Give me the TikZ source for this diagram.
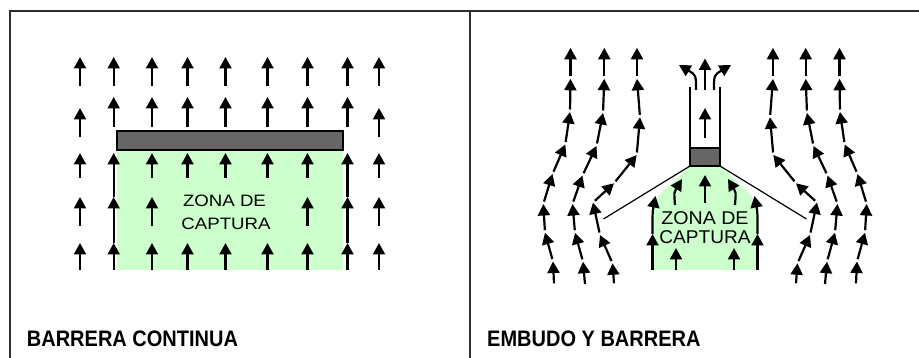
\documentclass[tikz,border=0pt]{standalone}
\usepackage{fontspec}
\setmainfont{Liberation Sans}
\usetikzlibrary{arrows.meta}

\definecolor{zone}{RGB}{204,255,204}
\definecolor{barfill}{RGB}{102,102,102}
\definecolor{framegray}{RGB}{45,45,45}

\tikzset{
  flow/.style={line width=2.2pt, -{Triangle[width=12pt,length=11.5pt]}},
  frameline/.style={draw=framegray, line width=2.6pt},
  wall/.style={draw=black, line width=1.4pt},
  blockbox/.style={draw=black, fill=barfill, line width=1.3pt},
  zonetext/.style={inner sep=0pt, anchor=base},
  paneltitle/.style={inner sep=0pt, anchor=base west,
    font=\bfseries\fontsize{20}{24}\selectfont, yscale=1.12}
}

% a chain of arrows along one streamline, points listed from tail upwards
\newcommand\flowline[1]{%
  \foreach \x/\y [count=\i, remember=\x as \px (initially 0),
                  remember=\y as \py (initially 0)] in {#1}{%
    \ifnum\i=2 \draw[flow] (\px,\py) -- (\x,\y);\fi
    \ifnum\i>2 \draw[flow, shorten <=2.5pt] (\px,\py) -- (\x,\y);\fi}}

\begin{document}
\begin{tikzpicture}[x=1pt,y=-1pt]
\useasboundingbox (0,0) rectangle (919,358);
\fill[white] (0,0) rectangle (919,358);

% outer frame and divider
\draw[frameline] (10,358) |- (919,11);
\draw[frameline] (470,11) -- (470,358);

% ---------- continuous barrier ----------
\fill[zone] (117,150) rectangle (343,270);
\draw[blockbox] (117,131) rectangle (343,150);

% first row
\foreach \x in {80,113.7,152,187.5,225.5,267.5,307.5,347.5,379}
  \draw[flow] (\x,86) -- (\x,57);
% second row
\foreach \x in {113.7,152,187.5,225.5,267.5,307.5,347.5}
  \draw[flow] (\x,127) -- (\x,97);
\foreach \x in {80,379}
  \draw[flow] (\x,137) -- (\x,108);
% rows below the barrier
\foreach \x in {80,152,187.5,225.5,267.5,307.5,379}
  \draw[flow] (\x,178) -- (\x,153);
\foreach \x in {80,152,307.5,379}
  \draw[flow] (\x,226) -- (\x,197);
\foreach \x in {80,152,187.5,225.5,267.5,307.5,379}
  \draw[flow] (\x,270) -- (\x,243);
% edges of the capture zone
\foreach \x in {113.7,347.5}{
  \draw[flow] (\x,270) -- (\x,243);
  \draw[flow] (\x,243) -- (\x,197);
  \draw[flow] (\x,197) -- (\x,153);
}

\node[zonetext, font=\fontsize{16.5}{20}\selectfont, xscale=1.13] (za) at (224.5,206.7) {ZONA DE};
\node[zonetext, font=\fontsize{16.5}{20}\selectfont, xscale=1.13] (zb) at (226,230) {CAPTURA};

\node[paneltitle] (ta) at (26.7,346.5) {BARRERA CONTINUA};

% ---------- funnel and gate ----------
\fill[zone, shift={(705,0)}] (-15,166) -- (15,166) -- (45,194) -- (52.5,206)
  -- (52.5,270) -- (-52.5,270) -- (-52.5,206) -- (-45,194) -- cycle;

\foreach \s in {1,-1}{
  \begin{scope}[shift={(705,0)}, xscale=\s]
    % streamlines around the funnel
    \flowline{-151/283.3, -152/261.5, -160/232.7, -161.7/204, -152.5/174,
              -139.7/144.5, -135/112, -134.5/78.8, -134.5/47.8}
    \flowline{-120/284, -122/261.7, -130/232.7, -132.5/204, -122.5/175.5,
              -108.5/146, -102/113, -100.7/78.8, -100.7/47.8}
    \flowline{-91/283.3, -92.5/263.3, -105/235, -112/202.5, -91/183.3,
              -68.3/155, -65/117.3, -68/78.8, -68/47.8}
    % funnel wall and gate wall
    \draw[wall] (-15,87) -- (-15,148);
    \draw[line width=1.2pt] (-15,166) -- (-101.5,219);
    % flow inside the capture zone
    \draw[flow] (-30,205) .. controls (-31,192) .. (-23,179);
    \draw[flow] (-29,270) -- (-29,248);
    \draw[flow] (-52.5,270) -- (-52.5,234);
    \draw[flow] (-52.5,234) .. controls (-52.5,212) .. (-49.5,196);
    % flow leaving the gate
    \draw[flow] (-9,90) .. controls (-9,75) .. (-26,65);
  \end{scope}
}
\begin{scope}[shift={(705,0)}]
  \draw[blockbox] (-15,148) rectangle (15,166);
  \draw[flow] (0,203) -- (0,175);
  \draw[flow] (0,138) -- (0,108);
  \draw[flow] (0,90) -- (0,58.5);
\end{scope}

\node[zonetext, font=\fontsize{18.5}{20}\selectfont, xscale=1.06] (zc) at (705,225) {ZONA DE};
\node[zonetext, font=\fontsize{18.5}{20}\selectfont, xscale=1.03] (zd) at (705,243.3) {CAPTURA};

\node[paneltitle] (tb) at (487,346.5) {EMBUDO Y BARRERA};
\end{tikzpicture}
\end{document}
